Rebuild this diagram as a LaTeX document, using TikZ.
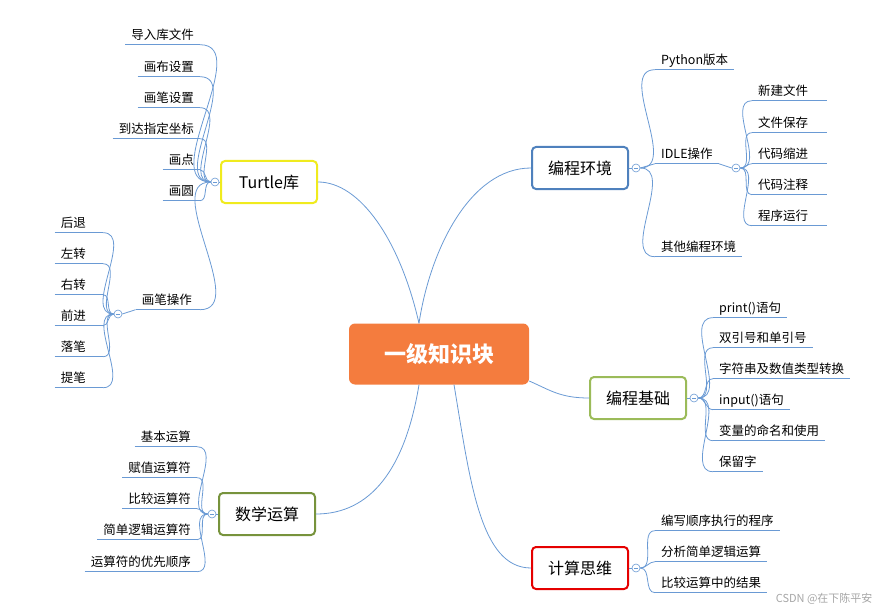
\documentclass[tikz,border=0pt]{standalone}
\usepackage{fontspec}
\setmainfont{Noto Sans CJK SC}
\begin{document}
\begin{tikzpicture}[x=1pt,y=-1pt,
  ln/.style={draw=lc, line width=0.8pt},
  leaf/.style={font=\fontsize{12.5}{14}\selectfont, inner xsep=6pt, inner ysep=2pt, text height=10pt, text depth=3pt},
  br/.style={draw, rounded corners=4pt, line width=2pt, fill=white, minimum width=96pt, minimum height=42pt, font=\fontsize{16}{18}\selectfont},
  tog/.style={circle, draw=lc, fill=white, minimum size=8pt, inner sep=0pt, line width=0.6pt,
    path picture={\draw[lc,line width=0.6pt] ([xshift=-2pt]path picture bounding box.center) -- ([xshift=2pt]path picture bounding box.center);}}
]
\definecolor{lc}{HTML}{6A9AD4}
\definecolor{orng}{HTML}{F47C3E}
\useasboundingbox (0,0) rectangle (881,615);
\newcommand{\Rleaf}[5][]{\node[leaf,anchor=west,#1] (#2) at (#3,#4) {#5}; \draw[ln] (#2.south west) -- (#2.south east);}
\newcommand{\Lleaf}[5][]{\node[leaf,anchor=east,#1] (#2) at (#3,#4) {#5}; \draw[ln] (#2.south west) -- (#2.south east);}

% center
\node[fill=orng, rounded corners=6pt, minimum width=180pt, minimum height=61pt, text=white, font=\fontsize{22}{24}\selectfont\bfseries] (c) at (439,354) {一级知识块};

% branches
\node[br, draw={rgb,255:red,79;green,129;blue,189}] (b1) at (580,168) {编程环境};
\node[br, draw={rgb,255:red,155;green,187;blue,89}] (b2) at (638,398) {编程基础};
\node[br, draw=red!90!black] (b3) at (580,568) {计算思维};
\node[br, draw={rgb,255:red,240;green,235;blue,30}] (b4) at (269,182) {Turtle库};
\node[br, draw={rgb,255:red,119;green,147;blue,60}] (b5) at (267,514) {数学运算};

% center connectors
\draw[ln] (c.north) ++(-20,0) .. controls (400,240) and (360,182) .. (b4.east);
\draw[ln] (c.north) ++(-20,0) .. controls (430,250) and (470,168) .. (b1.west);
\draw[ln] (c.east) ++(0,27) .. controls (550,390) and (560,398) .. (b2.west);
\draw[ln] (c.south) ++(15,0) .. controls (470,480) and (480,568) .. (b3.west);
\draw[ln] (c.south) ++(-20,0) .. controls (405,470) and (370,514) .. (b5.east);

% toggles
\node[tog] (t1) at (636,168) {};
\node[tog] (t2) at (694,398) {};
\node[tog] (t3) at (636,568) {};
\node[tog] (t4) at (215,182) {};
\node[tog] (t5) at (212,514) {};

% 编程环境 leaves
\Rleaf{e1}{655}{61}{Python版本}
\Rleaf{e2}{655}{155}{IDLE操作}
\Rleaf{e3}{655}{248}{其他编程环境}
\foreach \n in {e1,e3} \draw[ln] (t1.east) to[out=0,in=180] (\n.south west);
\node[tog] (t6) at (736,168) {};
\draw[ln] (t1.east) -- (e2.south west);
\draw[ln] (e2.south east) -- (t6.west);
\Rleaf[text width=63pt]{i1}{752}{92}{新建文件}
\Rleaf[text width=63pt]{i2}{752}{124}{文件保存}
\Rleaf[text width=63pt]{i3}{752}{155}{代码缩进}
\Rleaf[text width=63pt]{i4}{752}{186}{代码注释}
\Rleaf[text width=63pt]{i5}{752}{217}{程序运行}
\foreach \n in {i1,i2,i3,i4,i5} \draw[ln] (t6.east) to[out=0,in=180] (\n.south west);
\draw[ln] (b1.east) -- (t1.west);

% 编程基础 leaves
\Rleaf{f1}{713}{309}{print()语句}
\Rleaf{f2}{713}{339}{双引号和单引号}
\Rleaf{f3}{713}{370}{字符串及数值类型转换}
\Rleaf{f4}{713}{401}{input()语句}
\Rleaf{f5}{713}{432}{变量的命名和使用}
\Rleaf{f6}{713}{463}{保留字}
\foreach \n in {f1,f2,f3,f4,f5,f6} \draw[ln] (t2.east) to[out=0,in=180] (\n.south west);
\draw[ln] (b2.east) -- (t2.west);

% 计算思维 leaves
\Rleaf{g1}{655}{522}{编写顺序执行的程序}
\Rleaf{g2}{655}{553}{分析简单逻辑运算}
\Rleaf{g3}{655}{584}{比较运算中的结果}
\foreach \n in {g1,g2,g3} \draw[ln] (t3.east) to[out=0,in=180] (\n.south west);
\draw[ln] (b3.east) -- (t3.west);

% Turtle leaves
\Lleaf{h1}{200}{36}{导入库文件}
\Lleaf{h2}{200}{68}{画布设置}
\Lleaf{h3}{200}{99}{画笔设置}
\Lleaf{h4}{200}{130}{到达指定坐标}
\Lleaf{h5}{200}{161}{画点}
\Lleaf{h6}{200}{192}{画圆}
\Lleaf[text width=52pt]{h7}{200}{301}{画笔操作}
\foreach \n in {h1,h2,h3,h4,h5,h6,h7} \draw[ln] (t4.west) to[out=180,in=0] (\n.south east);
\draw[ln] (b4.west) -- (t4.east);
\node[tog] (t7) at (118,314) {};
\draw[ln] (h7.south west) -- (t7.east);
\Lleaf[text width=36pt]{k1}{103}{224}{后退}
\Lleaf[text width=36pt]{k2}{103}{255}{左转}
\Lleaf[text width=36pt]{k3}{103}{286}{右转}
\Lleaf[text width=36pt]{k4}{103}{317}{前进}
\Lleaf[text width=36pt]{k5}{103}{348}{落笔}
\Lleaf[text width=36pt]{k6}{103}{379}{提笔}
\foreach \n in {k1,k2,k3,k4,k5,k6} \draw[ln] (t7.west) to[out=180,in=0] (\n.south east);

% 数学运算 leaves
\Lleaf{m1}{197}{438}{基本运算}
\Lleaf{m2}{197}{469}{赋值运算符}
\Lleaf{m3}{197}{500}{比较运算符}
\Lleaf{m4}{197}{531}{简单逻辑运算符}
\Lleaf{m5}{197}{563}{运算符的优先顺序}
\foreach \n in {m1,m2,m3,m4,m5} \draw[ln] (t5.west) to[out=180,in=0] (\n.south east);
\draw[ln] (b5.west) -- (t5.east);

\node[text=gray!70, font=\fontsize{11}{12}\selectfont, anchor=east] (wm) at (876,599) {CSDN @在下陈平安};
\end{tikzpicture}
\end{document}
